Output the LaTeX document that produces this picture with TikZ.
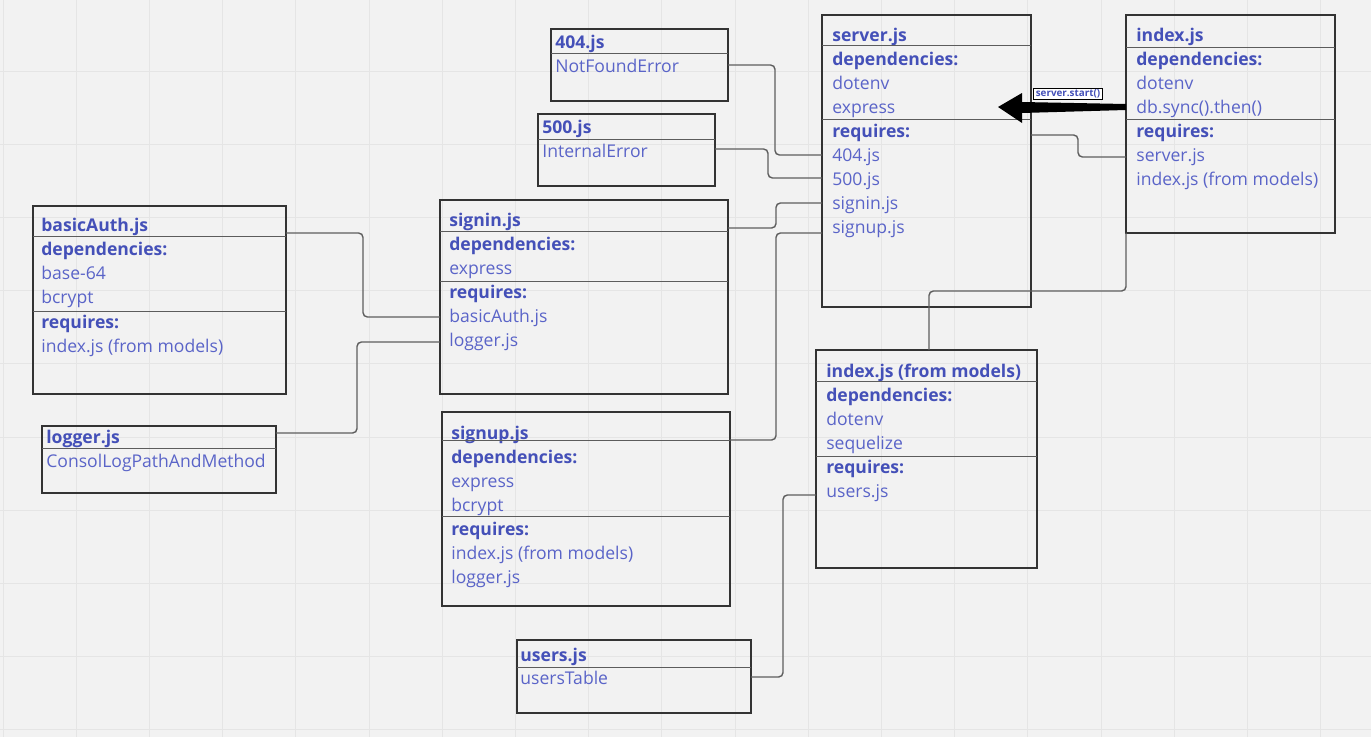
\documentclass[tikz,border=0pt]{standalone}
\usepackage{fontspec}
\setmainfont{Open Sans}
\usetikzlibrary{positioning}

\definecolor{fundo}{HTML}{F2F2F2}
\definecolor{cgrade}{HTML}{E5E5E5}
\definecolor{azul}{HTML}{4450B8}
\definecolor{azulclaro}{HTML}{5A64C8}
\definecolor{borda}{HTML}{333333}
\definecolor{ligacao}{HTML}{5E5E5E}

\begin{document}
\begin{tikzpicture}[
    x=0.02cm, y=-0.02cm,
    % Caixas dos módulos
    caixa/.style={
        draw=borda,
        line width=1.1pt,
        anchor=north west,
        inner sep=0pt,
        outer sep=0pt
    },
    % Textos das caixas
    titulo/.style={
        anchor=base west,
        inner sep=0pt,
        font=\fontsize{10}{12}\selectfont\bfseries,
        text=azul
    },
    item/.style={
        anchor=base west,
        inner sep=0pt,
        font=\fontsize{10}{12}\selectfont,
        text=azulclaro
    },
    divisoria/.style={draw=borda!80, line width=0.5pt},
    linha/.style={draw=ligacao, line width=0.8pt, rounded corners=2.5pt},
    grade/.style={draw=cgrade, line width=0.5pt},
    rotulo/.style={
        draw=black,
        fill=white,
        line width=0.6pt,
        inner xsep=1.2pt,
        inner ysep=0.8pt,
        font=\fontsize{5.6}{6}\selectfont\bfseries,
        text=azul
    }
]

% ---- FUNDO QUADRICULADO ----
\useasboundingbox (0,0) rectangle (1371,737);
\fill[fundo] (0,0) rectangle (1371,737);
\foreach \gx in {0,...,18}
    \draw[grade] (3+73.2*\gx,0) -- (3+73.2*\gx,737);
\foreach \gy in {-1,...,9}
    \draw[grade] (0,71+73.2*\gy) -- (1371,71+73.2*\gy);

% ---- 404.js / 500.js ----
\node[caixa, minimum width=3.54cm, minimum height=1.44cm] (c404) at (551,29) {};
\node[titulo] (t404) at (555,48) {404.js};
\node[item]   (i404) at (555,72) {NotFoundError};
\draw[divisoria] (c404.west |- 0,53) -- (c404.east |- 0,53);

\node[caixa, minimum width=3.54cm, minimum height=1.44cm] (c500) at (538,114) {};
\node[titulo] (t500) at (542,133) {500.js};
\node[item]   (i500) at (542,157) {InternalError};
\draw[divisoria] (c500.west |- 0,139) -- (c500.east |- 0,139);

% ---- server.js ----
\node[caixa, minimum width=4.18cm, minimum height=5.84cm] (c_server) at (822,15) {};
\node[titulo] (s_t)  at (832,41)  {server.js};
\node[titulo] (s_d)  at (832,65)  {dependencies:};
\node[item]   (s_d1) at (832,89)  {dotenv};
\node[item]   (s_d2) at (832,113) {express};
\node[titulo] (s_r)  at (832,137) {requires:};
\node[item]   (s_r1) at (832,161) {404.js};
\node[item]   (s_r2) at (832,185) {500.js};
\node[item]   (s_r3) at (832,209) {signin.js};
\node[item]   (s_r4) at (832,233) {signup.js};
\draw[divisoria] (c_server.west |- 0,45)  -- (c_server.east |- 0,45);
\draw[divisoria] (c_server.west |- 0,119) -- (c_server.east |- 0,119);

% ---- index.js ----
\node[caixa, minimum width=4.18cm, minimum height=4.36cm] (c_index) at (1126,15) {};
\node[titulo] (x_t)  at (1136,41)  {index.js};
\node[titulo] (x_d)  at (1136,65)  {dependencies:};
\node[item]   (x_d1) at (1136,89)  {dotenv};
\node[item]   (x_d2) at (1136,113) {db.sync().then()};
\node[titulo] (x_r)  at (1136,137) {requires:};
\node[item]   (x_r1) at (1136,161) {server.js};
\node[item]   (x_r2) at (1136,185) {index.js (from models)};
\draw[divisoria] (c_index.west |- 0,47)  -- (c_index.east |- 0,47);
\draw[divisoria] (c_index.west |- 0,119) -- (c_index.east |- 0,119);

% ---- basicAuth.js / logger.js ----
\node[caixa, minimum width=5.06cm, minimum height=3.76cm] (c_basic) at (33,206) {};
\node[titulo] (b_t)  at (41,231) {basicAuth.js};
\node[titulo] (b_d)  at (41,255) {dependencies:};
\node[item]   (b_d1) at (41,279) {base-64};
\node[item]   (b_d2) at (41,303) {bcrypt};
\node[titulo] (b_r)  at (41,328) {requires:};
\node[item]   (b_r1) at (41,352) {index.js (from models)};
\draw[divisoria] (c_basic.west |- 0,236) -- (c_basic.east |- 0,236);
\draw[divisoria] (c_basic.west |- 0,311) -- (c_basic.east |- 0,311);

\node[caixa, minimum width=4.68cm, minimum height=1.34cm] (c_logger) at (42,426) {};
\node[titulo] (l_t)  at (46,443) {logger.js};
\node[item]   (l_i)  at (46,467) {ConsolLogPathAndMethod};
\draw[divisoria] (c_logger.west |- 0,448) -- (c_logger.east |- 0,448);

% ---- signin.js / signup.js ----
\node[caixa, minimum width=5.76cm, minimum height=3.88cm] (c_signin) at (440,200) {};
\node[titulo] (si_t)  at (449,226) {signin.js};
\node[titulo] (si_d)  at (449,250) {dependencies:};
\node[item]   (si_d1) at (449,274) {express};
\node[titulo] (si_r)  at (449,298) {requires:};
\node[item]   (si_r1) at (449,322) {basicAuth.js};
\node[item]   (si_r2) at (449,346) {logger.js};
\draw[divisoria] (c_signin.west |- 0,231) -- (c_signin.east |- 0,231);
\draw[divisoria] (c_signin.west |- 0,281) -- (c_signin.east |- 0,281);

\node[caixa, minimum width=5.76cm, minimum height=3.88cm] (c_signup) at (442,412) {};
\node[titulo] (su_t)  at (451,439) {signup.js};
\node[titulo] (su_d)  at (451,463) {dependencies:};
\node[item]   (su_d1) at (451,487) {express};
\node[item]   (su_d2) at (451,511) {bcrypt};
\node[titulo] (su_r)  at (451,535) {requires:};
\node[item]   (su_r1) at (451,559) {index.js (from models)};
\node[item]   (su_r2) at (451,583) {logger.js};
\draw[divisoria] (c_signup.west |- 0,440) -- (c_signup.east |- 0,440);
\draw[divisoria] (c_signup.west |- 0,516) -- (c_signup.east |- 0,516);

% ---- index.js (from models) / users.js ----
\node[caixa, minimum width=4.42cm, minimum height=4.36cm] (c_models) at (816,350) {};
\node[titulo] (m_t)  at (826,377) {index.js (from models)};
\node[titulo] (m_d)  at (826,401) {dependencies:};
\node[item]   (m_d1) at (826,425) {dotenv};
\node[item]   (m_d2) at (826,449) {sequelize};
\node[titulo] (m_r)  at (826,473) {requires:};
\node[item]   (m_r1) at (826,497) {users.js};
\draw[divisoria] (c_models.west |- 0,381) -- (c_models.east |- 0,381);
\draw[divisoria] (c_models.west |- 0,456) -- (c_models.east |- 0,456);

\node[caixa, minimum width=4.68cm, minimum height=1.46cm] (c_users) at (517,640) {};
\node[titulo] (u_t)  at (520,661) {users.js};
\node[item]   (u_i)  at (520,684) {usersTable};
\draw[divisoria] (c_users.west |- 0,667) -- (c_users.east |- 0,667);

% ---- LIGAÇÕES ----
\draw[linha] (c404.east |- 0,65)      -| (775,155) -- (c_server.west |- 0,155);
\draw[linha] (c500.east |- 0,149)     -| (768,178) -- (c_server.west |- 0,178);
\draw[linha] (c_signin.east |- 0,228) -| (776,203) -- (c_server.west |- 0,203);
\draw[linha] (c_signup.east |- 0,440) -| (776,233) -- (c_server.west |- 0,233);
\draw[linha] (c_basic.east |- 0,233)  -| (363,317) -- (c_signin.west |- 0,317);
\draw[linha] (c_logger.east |- 0,433) -| (357,342) -- (c_signin.west |- 0,342);
\draw[linha] (c_server.east |- 0,135) -| (1078,157) -- (c_index.west |- 0,157);
\draw[linha] (c_index.south west)     |- (929,291) -- (c_models.north -| 929,0);
\draw[linha] (c_users.east |- 0,677)  -| (783,495) -- (c_models.west |- 0,495);

% ---- SETA server.start() ----
\coordinate (inicio) at (c_index.west |- 0,107);
\fill[black] (inicio) ++(0,-3) -- ++(-104,-2) -- ++(0,-9) -- ++(-24,14)
    -- ++(24,16) -- ++(0,-10) -- ++(104,-3) -- cycle;
\node[rotulo] (start) at (1068,94) {server.start()};

\end{tikzpicture}
\end{document}
